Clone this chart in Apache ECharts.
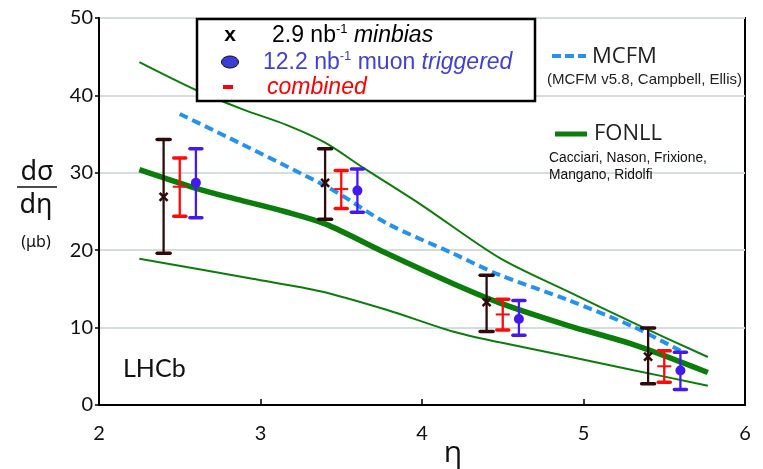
<!DOCTYPE html>
<html><head><meta charset="utf-8">
<script src="https://cdn.jsdelivr.net/npm/echarts@6/dist/echarts.min.js"></script>
<style>html,body{margin:0;padding:0;background:#fff}#c{width:763px;height:469px}</style>
</head><body><div id="c"></div>
<script>
// ---- data ----
const xTicks = [2, 3, 4, 5, 6];
const yTicks = [0, 10, 20, 30, 40, 50];

const minbiasEta = [2.4, 3.4, 4.4, 5.4];
const minbiasVal = [26.9, 28.7, 13.3, 6.25];
const minbiasLo  = [19.6, 24.0, 9.5, 2.75];
const minbiasHi  = [34.3, 33.1, 16.75, 9.95];

const combinedEta = [2.5, 3.5, 4.5, 5.5];
const combinedVal = [28.2, 27.9, 11.7, 5.0];
const combinedLo  = [24.4, 25.4, 9.7, 2.95];
const combinedHi  = [31.9, 30.3, 13.65, 7.0];

const muonEta = [2.6, 3.6, 4.6, 5.6];
const muonVal = [28.7, 27.7, 11.1, 4.45];
const muonLo  = [24.2, 24.9, 9.0, 2.0];
const muonHi  = [33.1, 30.5, 13.5, 6.8];

const fonllEta = [2.25, 2.6, 2.85, 3.15, 3.4, 3.78, 4.19, 4.48, 4.9, 5.31, 5.77];
const fonllVal = [30.4, 28.0, 26.6, 25.0, 23.4, 19.6, 15.7, 13.2, 10.3, 7.8, 4.2];

const fonllUpEta = [2.25, 2.6, 2.89, 3.16, 3.4, 3.64, 4.0, 4.48, 4.9, 5.31, 5.77];
const fonllUpVal = [44.3, 40.7, 38.2, 36.2, 33.9, 30.6, 25.8, 19.0, 14.7, 10.6, 6.2];

const fonllLoEta = [2.25, 2.95, 3.37, 3.78, 4.19, 4.48, 4.9, 5.31, 5.77];
const fonllLoVal = [18.9, 16.3, 14.7, 12.3, 9.5, 8.1, 6.3, 4.5, 2.5];

const mcfmEta = [2.5, 3.42, 3.78, 4.19, 4.48, 4.9, 5.31, 5.6];
const mcfmVal = [37.6, 28.1, 23.5, 19.6, 16.8, 13.6, 10.1, 7.0];

// ---- helpers ----
const zip2 = (a, b) => a.map((v, i) => [v, b[i]]);
const zip4 = (a, b, c, d) => a.map((v, i) => [v, b[i], c[i], d[i]]);

function errRenderer(kind, color, capW) {
  return function (params, api) {
    const x = api.value(0), v = api.value(1), lo = api.value(2), hi = api.value(3);
    const pc = api.coord([x, v]), pl = api.coord([x, lo]), ph = api.coord([x, hi]);
    const ch = [
      {type: 'line', shape: {x1: pl[0], y1: pl[1], x2: ph[0], y2: ph[1]}, style: {stroke: color, lineWidth: 2.3}},
      {type: 'line', shape: {x1: pl[0] - capW / 2, y1: pl[1], x2: pl[0] + capW / 2, y2: pl[1]}, style: {stroke: color, lineWidth: 3.5, lineCap: 'round'}},
      {type: 'line', shape: {x1: ph[0] - capW / 2, y1: ph[1], x2: ph[0] + capW / 2, y2: ph[1]}, style: {stroke: color, lineWidth: 3.5, lineCap: 'round'}}
    ];
    if (kind === 'x') {
      const s = 4;
      ch.push({type: 'line', shape: {x1: pc[0] - s, y1: pc[1] - s, x2: pc[0] + s, y2: pc[1] + s}, style: {stroke: color, lineWidth: 2.5}});
      ch.push({type: 'line', shape: {x1: pc[0] - s, y1: pc[1] + s, x2: pc[0] + s, y2: pc[1] - s}, style: {stroke: color, lineWidth: 2.5}});
    } else if (kind === 'circle') {
      ch.push({type: 'circle', shape: {cx: pc[0], cy: pc[1], r: 5}, style: {fill: color}});
    } else {
      ch.push({type: 'line', shape: {x1: pc[0] - 7, y1: pc[1], x2: pc[0] + 7, y2: pc[1]}, style: {stroke: color, lineWidth: 2}});
    }
    return {type: 'group', children: ch};
  };
}

const GREEN = '#0b7d0b';
const BLUE_DASH = '#2492f0';
const BROWN = '#2e0a0a';
const RED = '#ff0a0a';
const VIOLET = '#4418f0';
const LF = 23;

const chart = echarts.init(document.getElementById('c'), null, {renderer: 'canvas'});
chart.setOption({
  animation: false,
  grid: {left: 99, right: 18, top: 18, bottom: 64, show: true, borderColor: '#000', borderWidth: 2, backgroundColor: 'transparent'},
  xAxis: {
    type: 'value', min: xTicks[0], max: xTicks[xTicks.length - 1], interval: 1,
    axisLine: {lineStyle: {color: '#000', width: 2}},
    axisTick: {inside: true, length: 6, lineStyle: {color: '#000', width: 1.5}},
    axisLabel: {margin: 29, color: '#111', fontSize: 20, fontFamily: 'Lato', verticalAlign: 'middle'},
    splitLine: {show: false}
  },
  yAxis: {
    type: 'value', min: yTicks[0], max: yTicks[yTicks.length - 1], interval: 10,
    axisLine: {lineStyle: {color: '#000', width: 2}},
    axisTick: {inside: false, length: 4, lineStyle: {color: '#000', width: 1.5}},
    axisLabel: {margin: 6, color: '#111', fontSize: 20, fontFamily: 'Lato'},
    splitLine: {show: true, lineStyle: {color: '#d5dcdc', width: 2}}
  },
  series: [
    {type: 'line', data: zip2(fonllUpEta, fonllUpVal), smooth: 0.3, showSymbol: false, lineStyle: {color: GREEN, width: 2}, z: 2},
    {type: 'line', data: zip2(fonllLoEta, fonllLoVal), smooth: 0.3, showSymbol: false, lineStyle: {color: GREEN, width: 2}, z: 2},
    {type: 'line', data: zip2(fonllEta, fonllVal), smooth: 0.3, showSymbol: false, lineStyle: {color: GREEN, width: 5.5}, z: 2},
    {type: 'line', data: zip2(mcfmEta, mcfmVal), smooth: 0.3, showSymbol: false, lineStyle: {color: BLUE_DASH, width: 4, type: [9, 5]}, z: 3},
    {type: 'custom', renderItem: errRenderer('x', BROWN, 13), data: zip4(minbiasEta, minbiasVal, minbiasLo, minbiasHi), encode: {x: 0, y: [1, 2, 3]}, z: 5},
    {type: 'custom', renderItem: errRenderer('dash', RED, 12), data: zip4(combinedEta, combinedVal, combinedLo, combinedHi), encode: {x: 0, y: [1, 2, 3]}, z: 5},
    {type: 'custom', renderItem: errRenderer('circle', VIOLET, 12), data: zip4(muonEta, muonVal, muonLo, muonHi), encode: {x: 0, y: [1, 2, 3]}, z: 5}
  ],
  graphic: [
    // main legend box
    {type: 'rect', z: 100, shape: {x: 197, y: 19, width: 338, height: 82}, style: {fill: '#fff', stroke: '#000', lineWidth: 2.5}},
    {type: 'text', z: 101, x: 230, y: 35, style: {text: 'x', font: 'bold 21px "Liberation Sans"', fill: '#000', align: 'center', verticalAlign: 'middle'}},
    {type: 'text', z: 101, x: 272, y: 36, style: {
      text: '{a|2.9 nb}{s|-1}{i| minbias}', verticalAlign: 'middle',
      rich: {a: {fontFamily: 'Liberation Sans', fontSize: LF, fill: '#000'},
             s: {fontFamily: 'Liberation Sans', fontSize: 13, fill: '#000', padding: [0, 0, 13, 0]},
             i: {fontFamily: 'Liberation Sans', fontSize: LF, fontStyle: 'italic', fill: '#000'}}}},
    {type: 'ellipse', z: 101, shape: {cx: 230, cy: 62, rx: 8.5, ry: 6}, style: {fill: '#3b3bd6', stroke: '#111', lineWidth: 1}},
    {type: 'text', z: 101, x: 263, y: 63, style: {
      text: '{a|12.2 nb}{s|-1}{a| muon }{i|triggered}', verticalAlign: 'middle',
      rich: {a: {fontFamily: 'Liberation Sans', fontSize: LF, fill: '#4141d6'},
             s: {fontFamily: 'Liberation Sans', fontSize: 13, fill: '#4141d6', padding: [0, 0, 13, 0]},
             i: {fontFamily: 'Liberation Sans', fontSize: LF, fontStyle: 'italic', fill: '#4141d6'}}}},
    {type: 'rect', z: 101, shape: {x: 223, y: 85, width: 10, height: 4}, style: {fill: '#ff0000'}},
    {type: 'text', z: 101, x: 267, y: 88, style: {text: 'combined', font: 'italic ' + LF + 'px "Liberation Sans"', fill: '#ff0000', verticalAlign: 'middle'}},
    // right legend
    {type: 'line', z: 101, shape: {x1: 552, y1: 56, x2: 586, y2: 56}, style: {stroke: BLUE_DASH, lineWidth: 4, lineDash: [9, 4]}},
    {type: 'text', z: 101, x: 592, y: 57, style: {text: 'MCFM', font: '22px "Open Sans"', fill: '#222', verticalAlign: 'middle'}},
    {type: 'text', z: 101, x: 547, y: 80, style: {text: '(MCFM v5.8, Campbell, Ellis)', font: '15px "Liberation Sans"', fill: '#222', verticalAlign: 'middle'}},
    {type: 'line', z: 101, shape: {x1: 555, y1: 134, x2: 587, y2: 134}, style: {stroke: GREEN, lineWidth: 5}},
    {type: 'text', z: 101, x: 594, y: 134, style: {text: 'FONLL', font: '22px "Open Sans"', fill: '#222', verticalAlign: 'middle'}},
    {type: 'text', z: 101, x: 549, y: 158, style: {text: 'Cacciari, Nason, Frixione,', font: '13.8px "Liberation Sans"', fill: '#111', verticalAlign: 'middle'}},
    {type: 'text', z: 101, x: 549, y: 175, style: {text: 'Mangano, Ridolfi', font: '13.8px "Liberation Sans"', fill: '#111', verticalAlign: 'middle'}},
    // y-axis title
    {type: 'text', z: 101, x: 37, y: 172, style: {text: 'dσ', font: '27px "Noto Sans"', fill: '#111', align: 'center', verticalAlign: 'middle'}},
    {type: 'line', z: 101, shape: {x1: 17, y1: 187, x2: 57, y2: 187}, style: {stroke: '#111', lineWidth: 1.5}},
    {type: 'text', z: 101, x: 36, y: 205, style: {text: 'dη', font: '27px "Noto Sans"', fill: '#111', align: 'center', verticalAlign: 'middle'}},
    {type: 'text', z: 101, x: 36, y: 242, style: {text: '(μb)', font: '16px "Noto Sans"', fill: '#111', align: 'center', verticalAlign: 'middle'}},
    // x-axis title
    {type: 'text', z: 101, x: 453, y: 453, style: {text: 'η', font: '30px "Open Sans"', fill: '#111', align: 'center', verticalAlign: 'middle'}},
    // LHCb
    {type: 'text', z: 101, x: 123, y: 369, style: {text: 'LHCb', font: '25px "Lato"', fill: '#111', verticalAlign: 'middle'}}
  ]
});
</script></body></html>
